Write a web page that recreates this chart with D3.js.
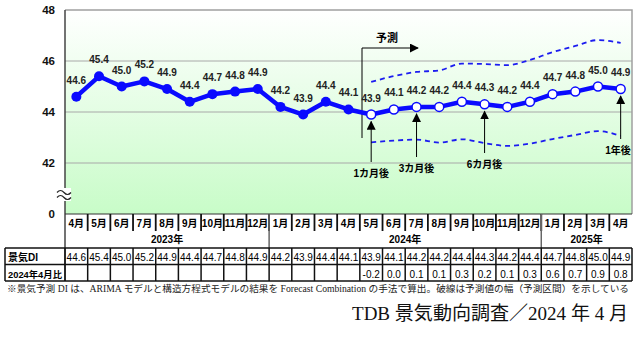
<!DOCTYPE html>
<html>
<head>
<meta charset="utf-8">
<script src="https://cdn.jsdelivr.net/npm/d3@7"></script>
<style>
  body { margin: 0; background: #fff; }
  svg { display: block; }
  text { font-family: "Liberation Sans", Arial, "Noto Sans CJK JP", sans-serif; }
</style>
</head>
<body>
<svg id="chart" width="640" height="337"></svg>
<script>
"use strict";

// 月ラベル (2023年4月〜2025年4月)
var monthLabels = ["4月","5月","6月","7月","8月","9月","10月","11月","12月",
  "1月","2月","3月","4月","5月","6月","7月","8月","9月","10月","11月","12月",
  "1月","2月","3月","4月"];
var yearLabels = ["2023年", "2024年", "2025年"];
var yearMonthCounts = [9, 12, 4];

// 景気DI (実績 + 予測)
var diValues = [44.6, 45.4, 45.0, 45.2, 44.9, 44.4, 44.7, 44.8, 44.9,
  44.2, 43.9, 44.4, 44.1, 43.9, 44.1, 44.2, 44.2, 44.4, 44.3, 44.2, 44.4,
  44.7, 44.8, 45.0, 44.9];
var forecastStart = 13;   // 2024年5月から予測
// 2024年4月比
var diffLabels = ["-0.2", "0.0", "0.1", "0.1", "0.3", "0.2", "0.1", "0.3", "0.6", "0.7", "0.9", "0.8"];

// 予測区間 (破線)
var upperBand = [45.18, 45.41, 45.57, 45.63, 45.9, 45.88, 45.84, 46.04, 46.35, 46.59, 46.82, 46.71];
var lowerBand = [42.81, 42.88, 42.92, 42.8, 42.93, 42.78, 42.67, 42.76, 42.94, 43.1, 43.25, 43.06];

// 矢印
var horizonLabels = ["1カ月後", "3カ月後", "6カ月後", "1年後"];
var horizonIndex = [13, 15, 18, 24];
var horizonBottom = [162, 157, 153, 139];

var yTicks = [40, 42, 44, 46, 48];

var svg = d3.select("#chart");
var plotLeft = 65, plotRight = 632, plotTop = 10, plotBottom = 214;

var x = d3.scaleBand().domain(d3.range(monthLabels.length)).range([plotLeft, plotRight]);
var bw = x.bandwidth();
var cx = function (i) { return x(i) + bw / 2; };
// 0〜40 は省略 (≈)、軸の一番下を 0 と表示
var y = d3.scaleLinear().domain([40, 48]).range([plotBottom, plotTop]);

var defs = svg.append("defs");
var grad = defs.append("linearGradient").attr("id", "bg").attr("x1", 0).attr("y1", 0).attr("x2", 0).attr("y2", 1);
grad.append("stop").attr("offset", "0%").attr("stop-color", "#ffffff");
grad.append("stop").attr("offset", "100%").attr("stop-color", "#c8fcc8");
defs.append("marker").attr("id", "arrow")
  .attr("viewBox", "0 0 10 10").attr("refX", 9).attr("refY", 5)
  .attr("markerWidth", 9).attr("markerHeight", 9).attr("markerUnits", "userSpaceOnUse")
  .attr("orient", "auto")
  .append("path").attr("d", "M0,0L10,5L0,10Z").attr("fill", "#000");

svg.append("rect").attr("x", plotLeft).attr("y", plotTop)
  .attr("width", plotRight - plotLeft).attr("height", plotBottom - plotTop)
  .attr("fill", "url(#bg)");

// グリッド
svg.append("g").selectAll("line")
  .data([42, 44, 46])
  .enter().append("line")
  .attr("x1", plotLeft).attr("x2", plotRight)
  .attr("y1", function (d) { return y(d); }).attr("y2", function (d) { return y(d); })
  .attr("stroke", "#a8a8a8").attr("stroke-width", 1);

// 枠 (上・右)
svg.append("path")
  .attr("d", "M" + plotLeft + "," + plotTop + "H" + plotRight + "V" + plotBottom)
  .attr("fill", "none").attr("stroke", "#a0a0a0").attr("stroke-width", 1.5);

// y 軸
var yAxis = svg.append("g").attr("transform", "translate(" + plotLeft + ",0)")
  .call(d3.axisLeft(y).tickValues(yTicks).tickSize(0).tickPadding(10)
    .tickFormat(function (d) { return d === 40 ? "0" : d; }));
yAxis.select(".domain").remove();
yAxis.selectAll("text").attr("font-size", 11.5).attr("font-weight", "bold").attr("fill", "#111");

svg.append("line").attr("x1", plotLeft).attr("x2", plotLeft).attr("y1", plotTop).attr("y2", 281)
  .attr("stroke", "#444").attr("stroke-width", 1.5);
svg.append("line").attr("x1", plotLeft).attr("x2", plotRight).attr("y1", plotBottom).attr("y2", plotBottom)
  .attr("stroke", "#333").attr("stroke-width", 1.2);

// 省略記号
svg.append("rect").attr("x", 57).attr("y", 188).attr("width", 14).attr("height", 13).attr("fill", "#fff");
[192.5, 197.5].forEach(function (yy) {
  svg.append("path")
    .attr("d", "M57," + yy + " q3.5,-4 7,0 t7,0")
    .attr("fill", "none").attr("stroke", "#222").attr("stroke-width", 1.2);
});

// 予測区間 破線
var bandLine = d3.line()
  .x(function (d, i) { return cx(forecastStart + i); })
  .y(function (d) { return y(d); })
  .curve(d3.curveMonotoneX);
[upperBand, lowerBand].forEach(function (band) {
  svg.append("path").datum(band)
    .attr("d", bandLine)
    .attr("fill", "none").attr("stroke", "#1c1cf0")
    .attr("stroke-width", 1.8).attr("stroke-dasharray", "5,4");
});

// 予測 ブラケット
svg.append("path")
  .attr("d", "M362,138V48H418")
  .attr("fill", "none").attr("stroke", "#000").attr("stroke-width", 1)
  .attr("marker-end", "url(#arrow)");
svg.append("text").attr("x", 387).attr("y", 42).attr("text-anchor", "middle")
  .attr("font-size", 11).attr("font-weight", "bold").text("予測");

// 矢印
horizonIndex.forEach(function (idx, k) {
  var xx = cx(idx);
  svg.append("line")
    .attr("x1", xx).attr("x2", xx)
    .attr("y1", horizonBottom[k]).attr("y2", y(diValues[idx]) + 7)
    .attr("stroke", "#000").attr("stroke-width", 1)
    .attr("marker-end", "url(#arrow)");
  svg.append("text")
    .attr("x", Math.min(xx, plotRight - 14)).attr("y", horizonBottom[k] + 15)
    .attr("text-anchor", "middle").attr("font-size", 10).attr("font-weight", "bold")
    .text(horizonLabels[k]);
});

// 景気DI 折れ線
var diLine = d3.line()
  .x(function (d, i) { return cx(i); })
  .y(function (d) { return y(d); });
svg.append("path").datum(diValues)
  .attr("d", diLine)
  .attr("fill", "none").attr("stroke", "#0a0aff")
  .attr("stroke-width", 4.5).attr("stroke-linejoin", "round");

svg.append("g").selectAll("circle")
  .data(diValues)
  .enter().append("circle")
  .attr("cx", function (d, i) { return cx(i); })
  .attr("cy", function (d) { return y(d); })
  .attr("r", function (d, i) { return i >= forecastStart ? 4.5 : 5; })
  .attr("fill", function (d, i) { return i >= forecastStart ? "#fff" : "#0a0aff"; })
  .attr("stroke", "#0a0aff")
  .attr("stroke-width", function (d, i) { return i >= forecastStart ? 1.5 : 0; });

svg.append("g").selectAll("text")
  .data(diValues)
  .enter().append("text")
  .attr("x", function (d, i) { return cx(i); })
  .attr("y", function (d) { return y(d) - 13; })
  .attr("text-anchor", "middle")
  .attr("font-size", 10).attr("font-weight", "bold").attr("fill", "#222")
  .text(function (d) { return d.toFixed(1); });

// 表
var table = svg.append("g");
table.selectAll(".mlab")
  .data(monthLabels)
  .enter().append("text")
  .attr("class", "mlab")
  .attr("x", function (d, i) { return cx(i); })
  .attr("y", 227)
  .attr("text-anchor", "middle").attr("font-size", 10).attr("font-weight", "bold")
  .text(function (d) { return d; });

// 月の区切り
table.selectAll(".msep")
  .data(d3.range(1, monthLabels.length))
  .enter().append("line")
  .attr("x1", function (k) { return x(k); }).attr("x2", function (k) { return x(k); })
  .attr("y1", plotBottom).attr("y2", 231)
  .attr("stroke", "#111").attr("stroke-width", 1.8);

// 年ラベル
var start = 0;
yearLabels.forEach(function (lab, j) {
  var n = yearMonthCounts[j];
  var mid = (x(start) + x(start + n - 1) + bw) / 2;
  table.append("text").attr("x", mid).attr("y", 243)
    .attr("text-anchor", "middle").attr("font-size", 10).attr("font-weight", "bold")
    .text(lab);
  if (start > 0) {
    table.append("line").attr("x1", x(start)).attr("x2", x(start))
      .attr("y1", plotBottom).attr("y2", 248)
      .attr("stroke", "#666").attr("stroke-width", 1.5);
  }
  start += n;
});

// 表の罫線
[248, 264.5, 281].forEach(function (yy) {
  table.append("line").attr("x1", 5).attr("x2", plotRight).attr("y1", yy).attr("y2", yy)
    .attr("stroke", "#111").attr("stroke-width", 1.5);
});
table.selectAll(".dsep")
  .data(d3.range(0, monthLabels.length + 1))
  .enter().append("line")
  .attr("x1", function (k) { return k === monthLabels.length ? plotRight : x(k); })
  .attr("x2", function (k) { return k === monthLabels.length ? plotRight : x(k); })
  .attr("y1", 248).attr("y2", 281)
  .attr("stroke", "#111").attr("stroke-width", 1.5);
table.append("line").attr("x1", 5).attr("x2", 5).attr("y1", 248).attr("y2", 281)
  .attr("stroke", "#111").attr("stroke-width", 1.5);

table.append("text").attr("x", 8).attr("y", 261).attr("font-size", 10).attr("font-weight", "bold").text("景気DI");
table.append("text").attr("x", 8).attr("y", 277.5).attr("font-size", 9)
  .attr("font-weight", "bold")
  .attr("textLength", 54).attr("lengthAdjust", "spacingAndGlyphs")
  .text("2024年4月比");

table.selectAll(".dival")
  .data(diValues)
  .enter().append("text")
  .attr("x", function (d, i) { return cx(i); })
  .attr("y", 261)
  .attr("text-anchor", "middle").attr("font-size", 10)
  .text(function (d) { return d.toFixed(1); });

table.selectAll(".diff")
  .data(diffLabels)
  .enter().append("text")
  .attr("x", function (d, i) { return cx(forecastStart + i); })
  .attr("y", 278)
  .attr("text-anchor", "middle").attr("font-size", 10)
  .text(function (d) { return d; });

// 注記
svg.append("text").attr("x", 7).attr("y", 292)
  .attr("font-size", 9.4).attr("fill", "#222")
  .style("font-family", "\"Liberation Serif\", \"Noto Sans CJK JP\", serif")
  .attr("textLength", 622).attr("lengthAdjust", "spacingAndGlyphs")
  .text("※景気予測 DI は、ARIMA モデルと構造方程式モデルの結果を Forecast Combination の手法で算出。破線は予測値の幅（予測区間）を示している");

svg.append("text").attr("x", 352).attr("y", 320)
  .attr("font-size", 19).attr("fill", "#111")
  .style("font-family", "\"Liberation Serif\", \"Noto Sans CJK JP\", serif")
  .attr("textLength", 276).attr("lengthAdjust", "spacingAndGlyphs")
  .text("TDB 景気動向調査／2024 年 4 月");
</script>
</body>
</html>
